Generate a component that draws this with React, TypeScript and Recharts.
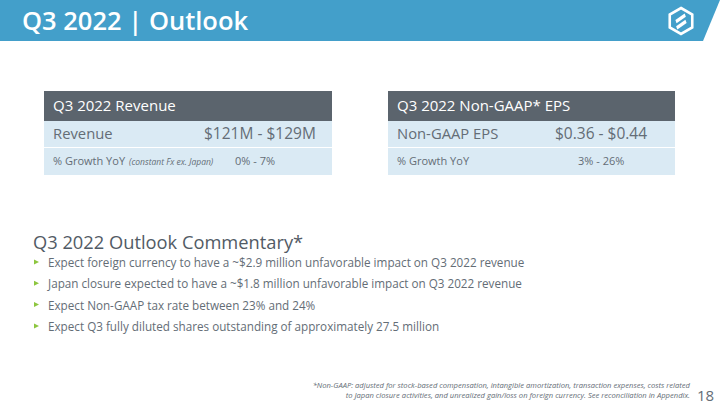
import { Surface, Layer, Rectangle, Polygon, Text } from "recharts";

const pageTitle = "Q3 2022 | Outlook";
const boxTitles = ["Q3 2022 Revenue", "Q3 2022 Non-GAAP* EPS"];
const mainLabels = ["Revenue", "Non-GAAP EPS"];
const mainValues = ["$121M - $129M", "$0.36 - $0.44"];
const growthLabels = ["% Growth YoY", "% Growth YoY"];
const growthNotes = ["(constant Fx ex. Japan)", ""];
const growthValues = ["0% - 7%", "3% - 26%"];
const commentaryTitle = "Q3 2022 Outlook Commentary*";
const bullets = [
  "Expect foreign currency to have a ~$2.9 million unfavorable impact on Q3 2022 revenue",
  "Japan closure expected to have a ~$1.8 million unfavorable impact on Q3 2022 revenue",
  "Expect Non-GAAP tax rate between 23% and 24%",
  "Expect Q3 fully diluted shares outstanding of approximately 27.5 million",
];
const footnote = [
  "*Non-GAAP: adjusted for stock-based compensation, intangible amortization, transaction expenses, costs related",
  "to Japan closure activities, and unrealized gain/loss on foreign currency. See reconciliation in Appendix.",
];
const pageNumber = "18";

const BLUE = "#439FCA";
const DARK = "#5B646D";
const LIGHT = "#DAEAF4";
const TEXT = "#646D76";
const GREEN = "#8DC63F";
const FONT = "'Open Sans', 'Liberation Sans', sans-serif";

const boxes = [
  { x: 44, w: 288, valueX: 204, growthX: 235 },
  { x: 388, w: 287, valueX: 555, growthX: 578 },
];

function hexPoints(cx: number, cy: number, r: number) {
  const pts = [];
  for (let i = 0; i < 6; i++) {
    const a = (Math.PI / 3) * i - Math.PI / 2;
    pts.push({ x: cx + r * Math.cos(a), y: cy + r * Math.sin(a) });
  }
  return pts;
}

export default function App() {
  return (
    <div style={{ position: "fixed", left: 0, top: 0, width: 720, height: 405, background: "#fff" }}>
      <Surface width={720} height={405} viewBox={{ x: 0, y: 0, width: 720, height: 405 }}>
        {/* header band */}
        <Polygon
          points={[
            { x: 0, y: 0 },
            { x: 720, y: 0 },
            { x: 703, y: 41 },
            { x: 0, y: 41 },
          ]}
          fill={BLUE}
        />
        <Text x={22} y={30} fill="#fff" fontSize={25.5} fontWeight={600} fontFamily={FONT}>
          {pageTitle}
        </Text>
        <Layer>
          <Polygon points={hexPoints(681, 21, 13)} fill="none" stroke="#fff" strokeWidth={2.6} />
          <path d="M675 18 L686 15 L686 18.5 L675 21.5 Z" fill="#fff" transform="rotate(-20 681 18)" />
          <path d="M676 24.5 L687 21.5 L687 25 L676 28 Z" fill="#fff" transform="rotate(-20 681 25)" />
        </Layer>

        {boxes.map((b, i) => (
          <Layer key={i}>
            <Rectangle x={b.x} y={91} width={b.w} height={30} fill={DARK} />
            <Rectangle x={b.x} y={121} width={b.w} height={26} fill={LIGHT} />
            <Rectangle x={b.x} y={148} width={b.w} height={27} fill={LIGHT} />
            <Text x={b.x + 9} y={111} fill="#fff" fontSize={15} fontFamily={FONT}>
              {boxTitles[i]}
            </Text>
            <Text x={b.x + 9} y={139} fill={TEXT} fontSize={14.8} fontFamily={FONT}>
              {mainLabels[i]}
            </Text>
            <Text x={b.valueX} y={139} fill={TEXT} fontSize={15.5} fontFamily={FONT}>
              {mainValues[i]}
            </Text>
            <text x={b.x + 9} y={165} fill={TEXT} fontSize={11} fontFamily={FONT}>
              {growthLabels[i]}
              {growthNotes[i] && (
                <tspan fontSize={8.5} fontStyle="italic" dx={4}>
                  {growthNotes[i]}
                </tspan>
              )}
            </text>
            <Text x={b.growthX} y={165} fill={TEXT} fontSize={11} fontFamily={FONT}>
              {growthValues[i]}
            </Text>
          </Layer>
        ))}

        <Text x={33} y={249} fill="#525B65" fontSize={18.3} fontFamily={FONT}>
          {commentaryTitle}
        </Text>
        {bullets.map((t, i) => {
          const y = 267 + i * 21.3;
          return (
            <Layer key={t}>
              <Polygon
                points={[
                  { x: 34, y: y - 7.5 },
                  { x: 39, y: y - 5 },
                  { x: 34, y: y - 2.5 },
                ]}
                fill={GREEN}
              />
              <Text x={48} y={y} fill={TEXT} fontSize={11.7} fontFamily={FONT}>
                {t}
              </Text>
            </Layer>
          );
        })}

        {footnote.map((t, i) => (
          <Text
            key={i}
            x={690}
            y={388 + i * 10}
            textAnchor="end"
            fill={TEXT}
            fontSize={7.6}
            fontStyle="italic"
            fontFamily={FONT}
          >
            {t}
          </Text>
        ))}
        <Text x={697} y={401} fill={TEXT} fontSize={15} fontFamily={FONT}>
          {pageNumber}
        </Text>
      </Surface>
    </div>
  );
}
